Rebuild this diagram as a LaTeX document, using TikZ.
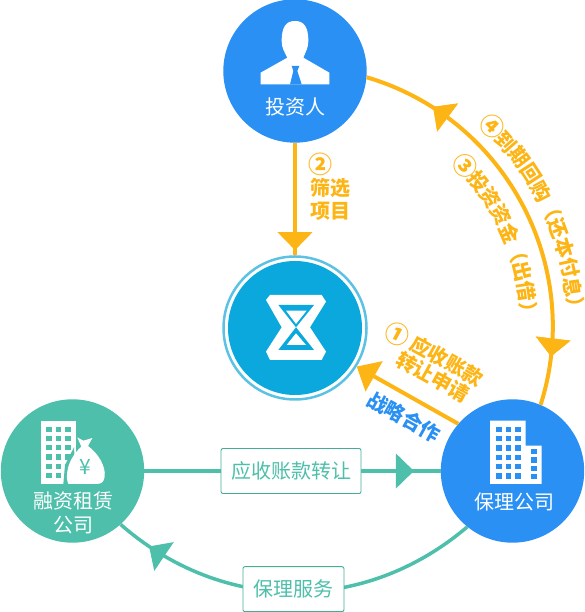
\documentclass[tikz,border=0pt]{standalone}
\usepackage{xcolor}
\usepackage{fontspec}
\setmainfont{Noto Sans CJK SC}
\usetikzlibrary{arrows.meta, decorations.markings}
\definecolor{nodeBlue}{HTML}{2A90F3}
\definecolor{leaseTeal}{HTML}{4DBFAB}
\definecolor{flowGold}{HTML}{FDB515}
\definecolor{logoBlue}{HTML}{0AA8DC}
\definecolor{logoRing}{HTML}{5CC2E4}
\newcommand{\txtsize}{\fontsize{20}{24}\selectfont}
\newcommand{\cnum}[1]{{\fontsize{24}{24}\selectfont #1}}

\begin{document}
\begin{tikzpicture}[
        x=1pt, y=1pt,
        bubble/.style={circle, minimum size=143.4pt, inner sep=0pt, fill=#1},
        inlabel/.style={text=white, inner sep=0pt, align=center, font=\txtsize},
        goldtxt/.style={text=flowGold, inner sep=0pt, font=\txtsize\bfseries},
        tagbox/.style={rectangle, draw=leaseTeal!90!black, fill=white, rounded corners=2pt, line width=0.9pt, text=leaseTeal, font=\txtsize, inner sep=0pt},
        goldline/.style={draw=flowGold, line width=4pt},
        tealline/.style={draw=leaseTeal, line width=4pt},
        midtip/.style={postaction={decorate}, decoration={markings, mark=at position #1 with {\arrow{Triangle[length=18pt,width=34pt]}}}},
        midback/.style={postaction={decorate}, decoration={markings, mark=at position #1 with {\arrow{Triangle[length=18pt,width=34pt,reversed]}}}}
    ]
    \useasboundingbox (0,0) rectangle (584,612);

    % Nodes
    \coordinate (hub) at (295,285);
    \node[bubble=nodeBlue] (investor) at (295,541) {};
    \node[bubble=leaseTeal] (lease) at (72.5,141) {};
    \node[bubble=nodeBlue] (factor) at (512.5,141) {};
    \node[circle, minimum size=143pt, inner sep=0pt, draw=logoRing, fill=white, line width=2.5pt] (logo) at (295,284) {};
    \node[circle, minimum size=134pt, inner sep=0pt, fill=logoBlue] (logoCore) at (logo) {};

    % Arrows
    \draw[goldline, midtip=0.955] (investor) -- (logo);
    \draw[goldline, midback=0.22, midtip=0.88] (investor.-5) to[bend left=45.6] (factor.67);
    \draw[goldline, -{Triangle[length=20pt,width=34pt]}] (factor.139) -- (logo.-32);
    \draw[tealline, midtip=0.91] (lease) -- (factor)
        node[tagbox, pos=0.495, minimum width=140pt, minimum height=45pt] (transferTag) {应收账款转让};
    \draw[tealline, line width=3.5pt, midtip=0.905] (factor.231) to[bend left=40.8]
        node[tagbox, pos=0.5, yshift=3pt, minimum width=101pt, minimum height=45pt] (serviceTag) {保理服务} (lease.-48);

    % Investor icon
    \begin{scope}[shift={(investor.center)}, x=1pt/3, y=1pt/3]
        \fill[white] (-23,40) .. controls (-33,60) and (-40,70) .. (-40,90) .. controls (-40,135) and (-25,150) .. (0,150)
            .. controls (25,150) and (40,135) .. (40,90) .. controls (40,70) and (33,60) .. (25,40)
            -- (103,-5) -- (103,-40) -- (-103,-40) -- (-103,-5) -- cycle;
        \fill[nodeBlue] (-10,15) -- (13,15) -- (7,0) -- (20,-40) -- (-15,-40) -- (-5,0) -- cycle;
    \end{scope}
    \node[inlabel] (investorTxt) at (295,505) {投资人};

    % Logo icon
    \begin{scope}[shift={(296,284.7)}, x=1pt/3, y=1pt/3]
        \fill[white] (-90,82) -- (-78,97) -- (77,97) -- (90,77) -- (42,0) -- (90,-73) -- (77,-98) -- (-78,-98) -- (-90,-73) -- (-43,0) -- cycle;
        \fill[logoBlue] (-53,67) -- (54,67) -- (0,0) -- cycle (-53,-68) -- (54,-68) -- (0,0) -- cycle;
        \fill[white] (-30,50) -- (32,50) -- (0,10) -- cycle (-28,-53) -- (30,-53) -- (0,-18) -- cycle;
    \end{scope}

    % Factor icon
    \begin{scope}[shift={(210,612-400)}, x=1pt/3, y=-1pt/3]
        \fill[white] (840,62) rectangle (947,252) (947,137) rectangle (995,252);
        \foreach \wx in {858,887,915}
            \foreach \wy in {80,108,136,164,192,220}
                \fill[nodeBlue] (\wx,\wy) rectangle ++(17,16);
        \foreach \wy in {147,172,197,222}
            \fill[nodeBlue] (962,\wy) rectangle ++(18,16);
    \end{scope}
    \node[inlabel] (factorTxt) at (514,110) {保理公司};

    % Lease icon
    \begin{scope}[shift={(0,612-410)}, x=1pt/3, y=-1pt/3]
        \fill[white] (122,32) rectangle (228,222);
        \foreach \wx in {138,167,195}
            \foreach \wy in {50,78,105,133,161,189}
                \fill[leaseTeal] (\wx,\wy) rectangle ++(17,16);
        \fill[leaseTeal] (222,112) -- (195,165) -- (190,222) -- (228,222) -- cycle;
        \fill[white] (232,82) -- (250,92) -- (277,84) -- (264,108)
            .. controls (295,130) and (318,170) .. (314,200) .. controls (312,215) and (305,222) .. (290,222)
            -- (205,222) .. controls (195,200) and (200,150) .. (244,110) -- cycle;
    \end{scope}
    \node[text=leaseTeal, inner sep=0pt, font=\fontsize{21}{24}\selectfont] (yenSign) at (85,145) {¥};
    \node[inlabel] (leaseTxtA) at (73,111) {融资租赁};
    \node[inlabel] (leaseTxtB) at (73,87) {公司};

    % Labels
    \node[goldtxt, anchor=west] (filterNum) at (308,448) {\cnum{②}};
    \node[goldtxt, anchor=west] (filterA) at (310,424) {筛选};
    \node[goldtxt, anchor=west] (filterB) at (310,401) {项目};
    \node[goldtxt, rotate=-29] (applyNum) at (397,278) {\cnum{①}};
    \node[goldtxt, rotate=-29] (applyA) at (447,251) {应收账款};
    \node[goldtxt, rotate=-29] (applyB) at (433,235) {转让申请};
    \node[text=nodeBlue, inner sep=0pt, font=\txtsize\bfseries, rotate=-29] (partner) at (404,195) {战略合作};
    \foreach \ch [count=\n, evaluate=\n as \ang using 45.4-(\n-1)*4.14] in {\cnum{④},到,期,回,购,（,还,本,付,息,）}
        \path (hub) ++(\ang:281) node[goldtxt, rotate=\ang-90] (repay\n) {\ch};
    \foreach \ch [count=\n, evaluate=\n as \ang using 43.4-(\n-1)*4.95] in {\cnum{③},投,资,资,金,（,出,借,）}
        \path (hub) ++(\ang:234) node[goldtxt, rotate=\ang-90] (fund\n) {\ch};
\end{tikzpicture}
\end{document}
